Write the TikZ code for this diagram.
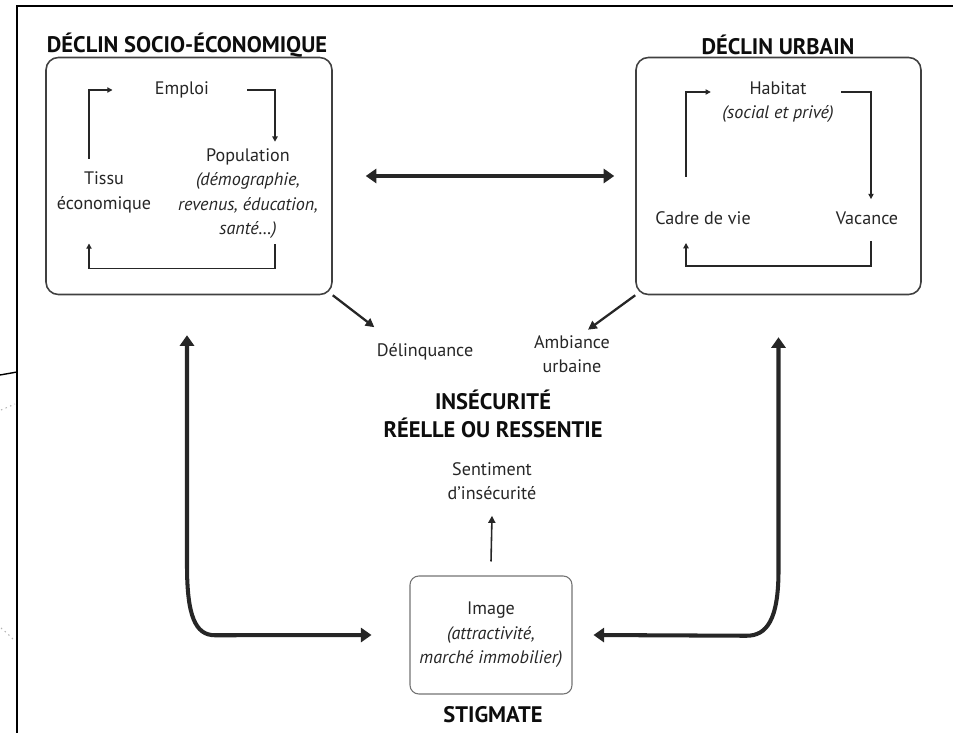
\documentclass[tikz,border=0pt]{standalone}
\usepackage{fontspec}
\setmainfont{PT Sans}
\usetikzlibrary{arrows.meta}

\tikzstyle{every path} = [line width=0.8pt, black!85]
\tikzstyle{every node} = [inner sep=1pt, text=black!85, align=center, font=\fontsize{10.3}{14}\selectfont]
\tikzstyle{titre} = [font=\fontsize{12.8}{16}\selectfont\bfseries, text=black!95]
\tikzstyle{grandbox} = [draw, rounded corners=7pt, line width=0.9pt, black!75, minimum width=5.72cm, minimum height=4.74cm]
\tikzstyle{petitbox} = [draw, rounded corners=5pt, line width=0.6pt, black!55, text=black!85, minimum width=3.24cm, minimum height=2.36cm]
\tikzstyle{boucle} = [line width=0.7pt, -{Triangle[length=3pt,width=3pt]}]
\tikzstyle{lien} = [line width=1.3pt, -{Triangle[length=5pt,width=5pt]}]
\tikzstyle{fleche} = [line width=0.9pt, -{Triangle[length=4pt,width=4pt]}]
\tikzstyle{gros} = [line width=2.3pt, {Triangle[length=6pt,width=8pt]}-{Triangle[length=6pt,width=8pt]}]

\begin{document}
\begin{tikzpicture}[x=0.02cm, y=-0.02cm]
    \useasboundingbox (0,0) rectangle (953,733);
    % Cadre
    \draw[line width=1.2pt, black] (17,733) -- (17,6) -- (953,6);
    \draw[line width=0.8pt, black] (0,375) -- (17,372);
    \draw[gray!60, dotted, line width=0.6pt] (1,410) .. controls (6,408) and (10,406) .. (15,404);
    \draw[gray!60, dotted, line width=0.6pt] (1,628) .. controls (6,632) and (10,636) .. (14,640);

    % Declin socio-economique
    \node[titre] (tsocio) at (187,45) {DÉCLIN SOCIO-ÉCONOMIQUE};
    \node[grandbox] (socio) at (189,176) {};
    \node (emploi) at (182,90) {Emploi};
    \node (tissu) at (104,192.5) {Tissu\\économique};
    \node (pop) at (248,193.5) {Population\\\textit{(démographie,}\\\textit{revenus, éducation,}\\\textit{santé…)}};
    \draw[boucle] ([xshift=-0.3cm,yshift=0.22cm]tissu.north) |- ([xshift=-0.8cm]emploi.west);
    \draw[boucle] ([xshift=0.72cm]emploi.east) -| ([xshift=0.54cm,yshift=0.08cm]pop.north);
    \draw[boucle] ([xshift=0.54cm,yshift=-0.06cm]pop.south) -- ++(0,24) -| ([xshift=-0.3cm,yshift=-0.56cm]tissu.south);

    % Declin urbain
    \node[titre] (turbain) at (778,45) {DÉCLIN URBAIN};
    \node[grandbox, minimum width=5.7cm] (urbain) at (778.5,176) {};
    \node (habitat) at (778,102) {Habitat\\\textit{(social et privé)}};
    \node (cadrevie) at (703,218) {Cadre de vie};
    \node (vacance) at (867,218) {Vacance};
    \draw[boucle] ([xshift=-0.34cm,yshift=0.64cm]cadrevie.north) |- ([xshift=-0.18cm,yshift=0.2cm]habitat.west);
    \draw[boucle] ([xshift=0.1cm,yshift=0.2cm]habitat.east) -| ([xshift=0.08cm,yshift=0.2cm]vacance.north);
    \draw[boucle] ([xshift=0.08cm,yshift=-0.28cm]vacance.south) -- ++(0,25) -| ([xshift=-0.34cm,yshift=-0.32cm]cadrevie.south);

    \draw[gros] ([xshift=0.66cm]socio.east) -- ([xshift=-0.42cm]urbain.west);

    % Insecurite
    \node (delinq) at (425,352) {Délinquance};
    \node (ambiance) at (572,354) {Ambiance\\urbaine};
    \draw[lien] (socio.south east) -- ([yshift=0.28cm]delinq.north west);
    \draw[lien] (urbain.south west) -- ([xshift=0.32cm,yshift=0.06cm]ambiance.north);
    \node[titre] (insecu) at (493,414) {INSÉCURITÉ\\RÉELLE OU RESSENTIE};
    \node (sentiment) at (492,481) {Sentiment\\d’insécurité};

    % Stigmate
    \node[petitbox] (stig) at (491,635) {Image\\\textit{(attractivité,}\\\textit{marché immobilier)}};
    \node[titre] (tstig) at (493,715) {STIGMATE};
    \draw[fleche] ([yshift=0.28cm]stig.north) -- ([yshift=-0.27cm]sentiment.south);
    \draw[gros] ([xshift=-0.04cm,yshift=-0.8cm]socio.south) -- ++(0,230) .. controls +(0,50) and +(-20,0) .. ++(28,70) -- ([xshift=-0.76cm]stig.west);
    \draw[gros] ([yshift=-0.84cm]urbain.south) -- ++(0,233) .. controls +(0,50) and +(20,0) .. ++(-32,65.5) -- ([xshift=0.42cm]stig.east);
\end{tikzpicture}
\end{document}
